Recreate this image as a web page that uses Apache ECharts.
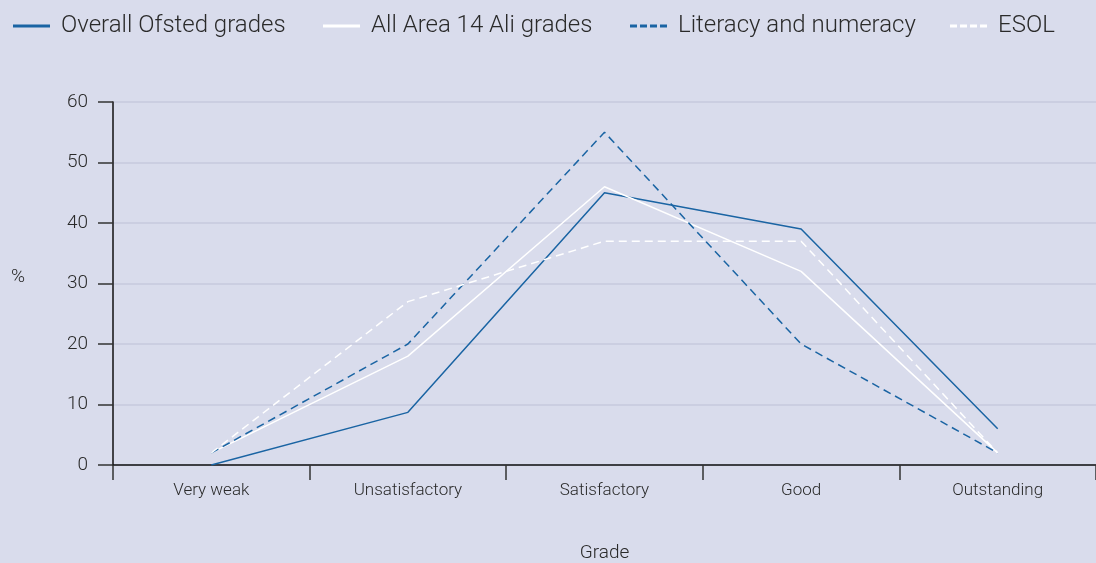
<!DOCTYPE html>
<html>
<head>
<meta charset="utf-8">
<script src="https://cdn.jsdelivr.net/npm/echarts@6/dist/echarts.min.js"></script>
<style>
html,body{margin:0;padding:0;background:#d9dcec;}
#c{width:1096px;height:563px;}
</style>
</head>
<body>
<div id="c"></div>
<script>
var categories = ['Very weak', 'Unsatisfactory', 'Satisfactory', 'Good', 'Outstanding'];
var overallOfsted = [0, 8.7, 45, 39, 6];
var allArea14 = [2, 18, 46, 32, 2];
var literacyNumeracy = [2, 20, 55, 20, 2];
var esol = [2, 27, 37, 37, 2];
var yTicks = { min: 0, max: 60, interval: 10 };
var seriesNames = ['Overall Ofsted grades', 'All Area 14 Ali grades', 'Literacy and numeracy', 'ESOL'];

var BLUE = '#1a64a3';
var WHITE = '#ffffff';
var FONT = 'Roboto, "Liberation Sans", sans-serif';
var TEXT = '#2a2a2a';
var SOLID_ICON = 'path://M0,5.5 L37,5.5 L37,8.5 L0,8.5 Z';
var DASH_ICON = 'path://M0,5.5 L7,5.5 L7,8.5 L0,8.5 Z M10,5.5 L17,5.5 L17,8.5 L10,8.5 Z M20,5.5 L27,5.5 L27,8.5 L20,8.5 Z M30,5.5 L37,5.5 L37,8.5 L30,8.5 Z';
var legendLefts = [13, 323, 630, 950];
var legendIcons = [SOLID_ICON, SOLID_ICON, DASH_ICON, DASH_ICON];

var chart = echarts.init(document.getElementById('c'));
function lineSeries(name, data, color, type) {
  return {
    name: name, type: 'line', data: data, symbol: 'none',
    lineStyle: { color: color, width: 1.5, type: type === 'dashed' ? [8, 5] : 'solid' },
    itemStyle: { color: color }, animation: false
  };
}
var legends = seriesNames.map(function (n, i) {
  return {
    top: 14, left: legendLefts[i], padding: 0, itemWidth: 37, itemHeight: 14,
    textStyle: { fontFamily: FONT, fontSize: 24, fontWeight: 300, color: TEXT, padding: [0, 0, 0, 6] },
    data: [{ name: n, icon: legendIcons[i] }]
  };
});
chart.setOption({
  backgroundColor: '#d9dcec',
  animation: false,
  legend: legends,
  grid: { left: 113, right: 0, top: 102, bottom: 98, containLabel: false, outerBoundsMode: 'none' },
  xAxis: {
    type: 'category', data: categories, boundaryGap: true,
    name: 'Grade', nameLocation: 'middle', nameGap: 79,
    nameTextStyle: { fontFamily: FONT, fontSize: 19, fontWeight: 300, color: TEXT },
    axisLine: { lineStyle: { color: '#111', width: 1.5 } },
    axisTick: { show: true, length: 15, lineStyle: { color: '#333', width: 1.5 } },
    axisLabel: { fontFamily: FONT, fontSize: 17, fontWeight: 300, color: TEXT, margin: 17 },
    splitLine: { show: false }
  },
  yAxis: {
    type: 'value', min: yTicks.min, max: yTicks.max, interval: yTicks.interval,
    name: '%', nameLocation: 'middle', nameRotate: 0, nameGap: 88,
    nameTextStyle: { fontFamily: FONT, fontSize: 19, fontWeight: 300, color: TEXT, verticalAlign: 'bottom', lineHeight: 12 },
    axisLine: { show: true, lineStyle: { color: '#111', width: 1.5 } },
    axisTick: { show: true, length: 15, lineStyle: { color: '#333', width: 1.5 } },
    axisLabel: { fontFamily: FONT, fontSize: 19, fontWeight: 300, color: TEXT, margin: 25 },
    splitLine: { show: true, lineStyle: { color: '#c6cade', width: 1.5 } }
  },
  series: [
    lineSeries(seriesNames[0], overallOfsted, BLUE, 'solid'),
    lineSeries(seriesNames[1], allArea14, WHITE, 'solid'),
    lineSeries(seriesNames[2], literacyNumeracy, BLUE, 'dashed'),
    lineSeries(seriesNames[3], esol, WHITE, 'dashed')
  ]
});
</script>
</body>
</html>
